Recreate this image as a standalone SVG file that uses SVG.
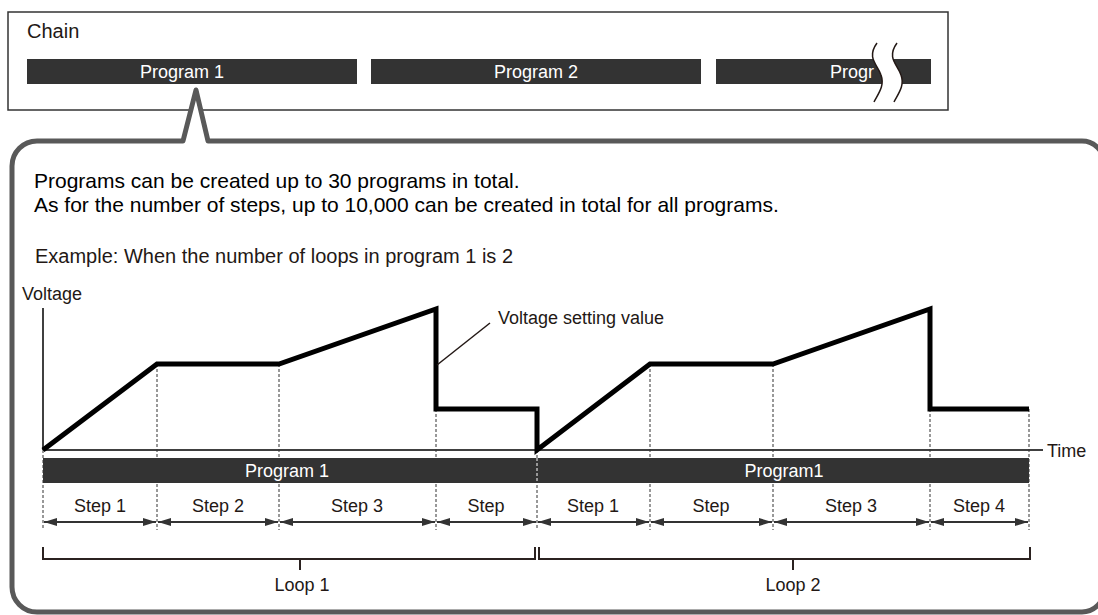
<svg xmlns="http://www.w3.org/2000/svg" width="1098" height="615" viewBox="0 0 1098 615">
<style>
text{font-family:"Liberation Sans",Arial,sans-serif;}
.bar{fill:#333333;}
.wt{fill:#ffffff;font-size:18px;text-anchor:middle;}
.lbl{fill:#231815;font-size:18px;}
.step{fill:#231815;font-size:18px;text-anchor:middle;}
.dash{stroke:#333;stroke-width:1;stroke-dasharray:3,2;fill:none;}
.arr{stroke:#333;stroke-width:2;fill:none;marker-start:url(#ah);marker-end:url(#ah);}
.brk{stroke:#2b2220;stroke-width:2;fill:none;}
</style>
<defs>
<marker id="ah" viewBox="0 0 13 10" refX="13" refY="5" markerWidth="13" markerHeight="10" markerUnits="userSpaceOnUse" orient="auto-start-reverse">
<path d="M0,1 L13,5 L0,9 Z" fill="#333"/>
</marker>
</defs>
<rect width="1098" height="615" fill="#fff"/>

<g id="chain">
<rect x="8" y="12" width="940" height="98" fill="#fff" stroke="#333" stroke-width="1.5"/>
<text x="27" y="38" font-size="20" fill="#231815">Chain</text>
<rect class="bar" x="27" y="59" width="330" height="25"/>
<text class="wt" x="182" y="78">Program 1</text>
<rect class="bar" x="371" y="59" width="330" height="25"/>
<text class="wt" x="536" y="78">Program 2</text>
<rect class="bar" x="716" y="59" width="215" height="25"/>
<text x="830" y="78" style="fill:#fff;font-size:18px;text-anchor:start">Progr</text>
<path d="M877,43 C866,58 878,65 881,75 C885,86 878,94 874,102 L894,102 C898,94 905,86 901,75 C898,65 886,58 897,43 Z" fill="#fff"/>
<path d="M877,43 C866,58 878,65 881,75 C885,86 878,94 874,102" fill="none" stroke="#231815" stroke-width="1.5"/>
<path d="M897,43 C886,58 898,65 901,75 C905,86 898,94 894,102" fill="none" stroke="#231815" stroke-width="1.5"/>
</g>

<g id="callout">
<path d="M183,141 L196,90 L208,141 L1082,141 A22,22 0 0 1 1104,163 L1104,590 A22,22 0 0 1 1082,612 L37,612 A25,25 0 0 1 12,587 L12,166 A25,25 0 0 1 37,141 Z" fill="#fff" stroke="#595959" stroke-width="5" stroke-linejoin="round"/>
<text x="34" y="188" font-size="21" fill="#000">Programs can be created up to 30 programs in total.</text>
<text x="34" y="212" font-size="21" fill="#000">As for the number of steps, up to 10,000 can be created in total for all programs.</text>
<text x="35" y="263" font-size="20" fill="#231815">Example: When the number of loops in program 1 is 2</text>
</g>

<g id="chart">
<text class="lbl" x="22" y="300">Voltage</text>
<line x1="43" y1="308" x2="43" y2="450" stroke="#000" stroke-width="1.5"/>
<line x1="43" y1="450" x2="1043" y2="450" stroke="#000" stroke-width="1.5"/>
<text class="lbl" x="1047" y="457">Time</text>
<g class="dash">
<line x1="43" y1="450" x2="43" y2="530"/>
<line x1="157" y1="364" x2="157" y2="530"/>
<line x1="279" y1="364" x2="279" y2="530"/>
<line x1="436" y1="409" x2="436" y2="530"/>
<line x1="537" y1="450" x2="537" y2="530"/>
<line x1="650" y1="364" x2="650" y2="530"/>
<line x1="773" y1="364" x2="773" y2="530"/>
<line x1="930" y1="409" x2="930" y2="530"/>
<line x1="1029" y1="409" x2="1029" y2="530"/>
</g>
<polyline points="43,450 157,364 279,364 436,309 436,409 537,409 537,450 650,364 773,364 930,309 930,409 1029,409" fill="none" stroke="#000" stroke-width="5" stroke-linejoin="miter"/>
<line x1="437" y1="365" x2="490" y2="323" stroke="#231815" stroke-width="1.5"/>
<text class="lbl" x="498" y="324">Voltage setting value</text>
</g>

<g id="program-bar">
<rect class="bar" x="43" y="458" width="494" height="25"/>
<rect class="bar" x="537" y="458" width="492" height="25"/>
<line x1="537" y1="458" x2="537" y2="483" stroke="#fff" stroke-width="1" stroke-dasharray="3,2"/>
<text class="wt" x="287" y="477">Program 1</text>
<text class="wt" x="784" y="477">Program1</text>
</g>

<g id="steps">
<text class="step" x="100" y="512">Step 1</text>
<text class="step" x="218" y="512">Step 2</text>
<text class="step" x="357" y="512">Step 3</text>
<text class="step" x="486" y="512">Step</text>
<text class="step" x="593" y="512">Step 1</text>
<text class="step" x="711" y="512">Step</text>
<text class="step" x="851" y="512">Step 3</text>
<text class="step" x="979" y="512">Step 4</text>
</g>

<g id="connectors">
<line class="arr" x1="44" y1="522" x2="156" y2="522"/>
<line class="arr" x1="158" y1="522" x2="278" y2="522"/>
<line class="arr" x1="280" y1="522" x2="435" y2="522"/>
<line class="arr" x1="437" y1="522" x2="536" y2="522"/>
<line class="arr" x1="538" y1="522" x2="649" y2="522"/>
<line class="arr" x1="651" y1="522" x2="772" y2="522"/>
<line class="arr" x1="774" y1="522" x2="929" y2="522"/>
<line class="arr" x1="931" y1="522" x2="1028" y2="522"/>
</g>

<g id="loops">
<path class="brk" d="M43,547 L43,559 L535,559 L535,547 M300,559 L300,570"/>
<text class="step" x="302" y="591">Loop 1</text>
<path class="brk" d="M539,547 L539,559 L1030,559 L1030,547 M793,559 L793,570"/>
<text class="step" x="793" y="591">Loop 2</text>
</g>
</svg>
